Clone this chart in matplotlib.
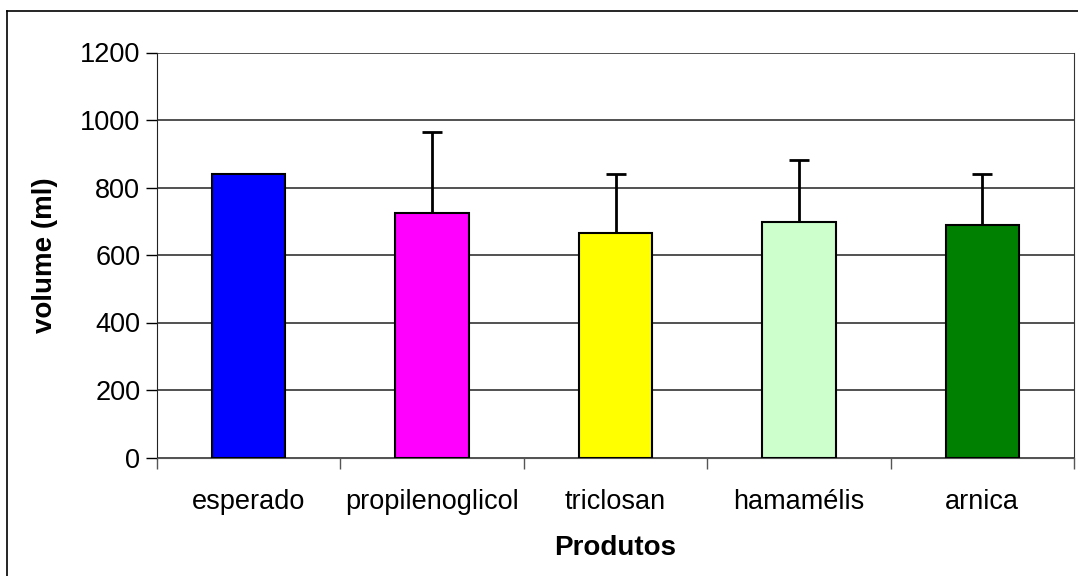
import matplotlib
matplotlib.use("Agg")
import matplotlib.pyplot as plt
from matplotlib.lines import Line2D

plt.rcParams['font.family'] = ['Liberation Sans', 'DejaVu Sans']

produtos = ['esperado', 'propilenoglicol', 'triclosan', 'hamamélis', 'arnica']
volume = [840, 723, 666, 698, 689]
erro = [0, 241, 175, 183, 151]
cores = ['#0000ff', '#ff00ff', '#ffff00', '#ccffcc', '#008000']

W, H = 1078, 576
fig = plt.figure(figsize=(W / 100, H / 100), dpi=100)
ax = fig.add_axes([157 / W, 1 - 457.5 / H, (1074 - 157) / W, (457.5 - 52.5) / H])

x = range(len(produtos))
ax.bar(x, volume, width=0.40, color=cores, edgecolor='black', linewidth=1.5, zorder=3)
# só a parte de cima da barra de erro (como no Excel)
idx = [i for i in x if erro[i] > 0]
eb = ax.errorbar(idx, [volume[i] for i in idx], yerr=[[0] * len(idx), [erro[i] for i in idx]],
                 fmt='none', ecolor='black', elinewidth=2, capsize=7, capthick=2, zorder=4)
eb[1][0].set_visible(False)

ax.set_xlim(-0.5, len(produtos) - 0.5)
ax.set_ylim(0, 1200)
ax.set_yticks(range(0, 1201, 200))
ax.yaxis.grid(True, color='#333333', linewidth=1.2, zorder=0)

ax.set_xticks([i - 0.5 for i in range(len(produtos) + 1)])
ax.set_xticklabels([])
ax.set_xticks(list(x), minor=True)
ax.set_xticklabels(produtos, minor=True, fontsize=19.5)
ax.tick_params(axis='x', which='major', length=8, width=1, color='#555555', direction='out')
ax.tick_params(axis='x', which='minor', length=0, pad=23)
ax.tick_params(axis='y', length=8, width=1, labelsize=19.5, pad=4)

ax.spines['top'].set_visible(False)
ax.spines['right'].set_color('#333333')
ax.spines['left'].set_color('#222222')
ax.spines['bottom'].set_color('#555555')

ax.set_xlabel('Produtos', fontsize=20, fontweight='bold', labelpad=14)
ax.set_ylabel('volume (ml)', fontsize=20, fontweight='bold', labelpad=16)

# moldura do gráfico (estilo Excel)
fig.add_artist(Line2D([7 / W, 7 / W], [0, 1 - 11 / H], color='black', linewidth=1.2))
fig.add_artist(Line2D([7 / W, 1], [1 - 11 / H, 1 - 11 / H], color='black', linewidth=1.2))

fig.savefig('out.png', dpi=100)
